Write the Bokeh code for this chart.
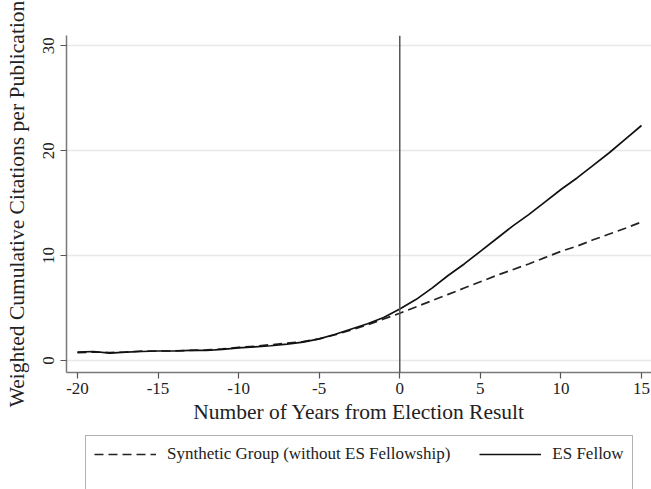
from bokeh.plotting import figure
from bokeh.models import Span, Legend, LegendItem, FixedTicker
from bokeh.layouts import column
from bokeh.embed import file_html
from bokeh.resources import INLINE

years = list(range(-20, 16))
es_fellow = [0.80, 0.85, 0.70, 0.80, 0.85, 0.90, 0.90, 0.95, 0.95, 1.05,
             1.20, 1.30, 1.40, 1.55, 1.75, 2.05, 2.50, 3.00, 3.50, 4.10,
             4.90, 5.80, 6.90, 8.10, 9.20, 10.40, 11.60, 12.80, 13.90, 15.10,
             16.30, 17.40, 18.60, 19.80, 21.10, 22.40]
synthetic = [0.75, 0.80, 0.75, 0.80, 0.90, 0.90, 0.90, 0.95, 1.00, 1.10,
             1.25, 1.35, 1.50, 1.65, 1.80, 2.05, 2.45, 2.90, 3.40, 3.95,
             4.50, 5.10, 5.70, 6.30, 6.90, 7.50, 8.10, 8.65, 9.20, 9.80,
             10.40, 10.90, 11.50, 12.05, 12.60, 13.20]
x_ticks = [-20, -15, -10, -5, 0, 5, 10, 15]
y_ticks = [0, 10, 20, 30]
series_labels = ["Synthetic Group (without ES Fellowship)", "ES Fellow"]
x_title = "Number of Years from Election Result"
y_title = "Weighted Cumulative Citations per Publication"

FONT = "Liberation Serif"
DASH = "9 5"

p = figure(width=651, height=430, x_range=(-20.68, 15.62), y_range=(-1.15, 30.98),
           output_backend="svg", toolbar_location=None,
           min_border_left=66, min_border_right=0, min_border_top=35, min_border_bottom=58)
p.outline_line_color = None
p.background_fill_color = "white"
p.border_fill_color = "white"
p.xgrid.visible = False
p.ygrid.grid_line_color = "#e8e8e8"
p.ygrid.grid_line_width = 1.5

p.xaxis.ticker = FixedTicker(ticks=x_ticks)
p.yaxis.ticker = FixedTicker(ticks=y_ticks)
p.xaxis.major_label_overrides = {t: str(t) for t in x_ticks}
p.yaxis.major_label_overrides = {t: str(t) for t in y_ticks}
p.yaxis.major_label_orientation = "vertical"

for ax in (p.xaxis[0], p.yaxis[0]):
    ax.axis_line_color = "#7a7a7a"
    ax.axis_line_width = 1.5
    ax.major_tick_line_color = "#555555"
    ax.major_tick_line_width = 1.2
    ax.major_tick_out = 6
    ax.major_tick_in = 0
    ax.minor_tick_line_color = None
    ax.major_label_text_font = FONT
    ax.major_label_text_font_size = "17px"
    ax.major_label_text_color = "#222222"
    ax.axis_label_text_font = FONT
    ax.axis_label_text_font_size = "21.5px"
    ax.axis_label_text_font_style = "normal"
    ax.axis_label_text_color = "#222222"

p.xaxis.axis_label = x_title
p.yaxis.axis_label = y_title
p.xaxis.major_label_standoff = 4
p.xaxis.axis_label_standoff = 3
p.yaxis.major_label_standoff = 6
p.yaxis.axis_label_standoff = 12

p.add_layout(Span(location=0, dimension="height", line_color="#555555", line_width=1.5))

p.line(years, synthetic, line_color="#222222", line_width=1.7, line_dash=DASH)
p.line(years, es_fellow, line_color="#111111", line_width=1.7)

# legend strip below the chart (frame is aligned with the main chart's frame)
lg = figure(width=651, height=59, x_range=(0, 1), y_range=(0, 1),
            output_backend="svg", toolbar_location=None,
            min_border_left=0, min_border_right=0, min_border_top=0, min_border_bottom=0)
lg.axis.visible = False
lg.grid.visible = False
lg.outline_line_color = None
lg.border_fill_color = "white"
# key-only renderers: a single off-view point each, so nothing is drawn in the strip
k_syn = lg.line([0], [-10], line_color="#222222", line_width=1.7, line_dash=DASH)
k_es = lg.line([0], [-10], line_color="#111111", line_width=1.7)

legend = Legend(items=[LegendItem(label=series_labels[0], renderers=[k_syn]),
                       LegendItem(label=series_labels[1], renderers=[k_es])],
                orientation="horizontal", location=(19, -34),
                glyph_width=62, glyph_height=20, label_height=20,
                label_standoff=11, spacing=29, padding=8, margin=0,
                label_text_font=FONT, label_text_font_size="17px",
                label_text_color="#222222",
                border_line_color="#666666", border_line_width=1.5,
                background_fill_alpha=1.0,
                title=" ", title_location="below", title_text_font_size="40px")
lg.add_layout(legend, "center")

layout = column(p, lg, spacing=0)
open("out.html", "w").write(file_html(layout, INLINE))
